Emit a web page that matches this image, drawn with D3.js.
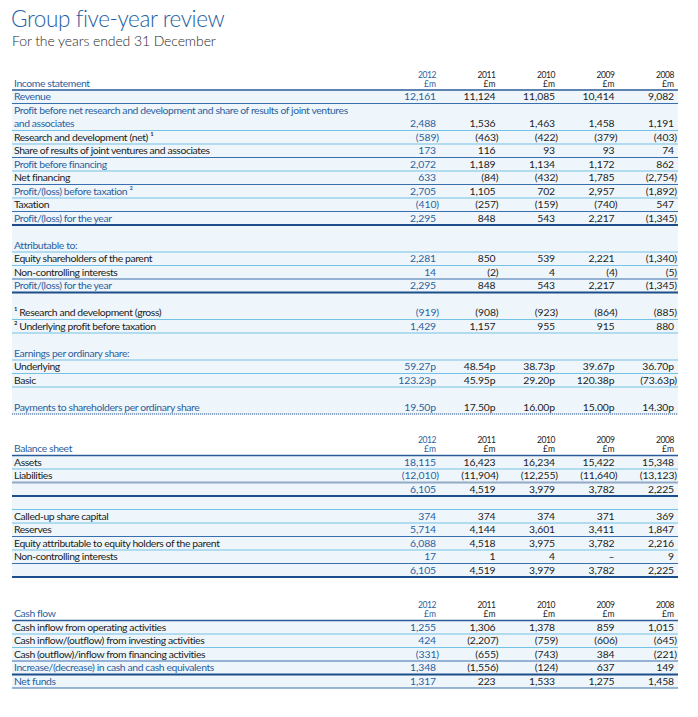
<!DOCTYPE html>
<html>
<head>
<meta charset="utf-8">
<script src="https://cdn.jsdelivr.net/npm/d3@7"></script>
<style>
  html, body { margin: 0; padding: 0; background: #ffffff; }
  svg { display: block; }
  text { font-family: Lato, "Open Sans", sans-serif; }
</style>
</head>
<body>
<div id="chart"></div>
<script>
// ---------------- DATA ----------------
const title = "Group five-year review";
const subtitle = "For the years ended 31 December";
const years = ["2012", "2011", "2010", "2009", "2008"];
const unitLabel = "£m";

const incomeTitle = "Income statement";
const incomeLabels = [
  "Revenue",
  "Profit before net research and development and share of results of joint ventures\nand associates",
  "Research and development (net) ¹",
  "Share of results of joint ventures and associates",
  "Profit before financing",
  "Net financing",
  "Profit/(loss) before taxation ²",
  "Taxation",
  "Profit/(loss) for the year"
];
const incomeValues = [
  [12161, 11124, 11085, 10414, 9082],
  [2488, 1536, 1463, 1458, 1191],
  [-589, -463, -422, -379, -403],
  [173, 116, 93, 93, 74],
  [2072, 1189, 1134, 1172, 862],
  [633, -84, -432, 1785, -2754],
  [2705, 1105, 702, 2957, -1892],
  [-410, -257, -159, -740, 547],
  [2295, 848, 543, 2217, -1345]
];

const attribTitle = "Attributable to:";
const attribLabels = ["Equity shareholders of the parent", "Non-controlling interests", "Profit/(loss) for the year"];
const attribValues = [
  [2281, 850, 539, 2221, -1340],
  [14, -2, 4, -4, -5],
  [2295, 848, 543, 2217, -1345]
];

const footLabels = ["¹ Research and development (gross)", "² Underlying profit before taxation"];
const footValues = [
  [-919, -908, -923, -864, -885],
  [1429, 1157, 955, 915, 880]
];

const epsTitle = "Earnings per ordinary share:";
const epsLabels = ["Underlying", "Basic"];
const epsValues = [
  [59.27, 48.54, 38.73, 39.67, 36.70],
  [123.23, 45.95, 29.20, 120.38, -73.63]
];

const paymentsLabel = "Payments to shareholders per ordinary share";
const paymentsValues = [19.50, 17.50, 16.00, 15.00, 14.30];

const balanceTitle = "Balance sheet";
const balanceLabels = ["Assets", "Liabilities", ""];
const balanceValues = [
  [18115, 16423, 16234, 15422, 15348],
  [-12010, -11904, -12255, -11640, -13123],
  [6105, 4519, 3979, 3782, 2225]
];

const equityLabels = ["Called-up share capital", "Reserves", "Equity attributable to equity holders of the parent", "Non-controlling interests", ""];
const equityValues = [
  [374, 374, 374, 371, 369],
  [5714, 4144, 3601, 3411, 1847],
  [6088, 4518, 3975, 3782, 2216],
  [17, 1, 4, null, 9],
  [6105, 4519, 3979, 3782, 2225]
];

const cashTitle = "Cash flow";
const cashLabels = [
  "Cash inflow from operating activities",
  "Cash inflow/(outflow) from investing activities",
  "Cash (outflow)/inflow from financing activities",
  "Increase/(decrease) in cash and cash equivalents",
  "Net funds"
];
const cashValues = [
  [1255, 1306, 1378, 859, 1015],
  [424, -2207, -759, -606, -645],
  [-331, -655, -743, 384, -221],
  [1348, -1556, -124, 637, 149],
  [1317, 223, 1533, 1275, 1458]
];

// ---------------- STYLE ----------------
const W = 698, H = 717;
const BLUE = "#2b5f9f", BLACK = "#1c1c1c", TITLE_BLUE = "#2360a3";
const BG = "#eef6fb";
const LINE = {
  light: { c: "#74c2e6", w: 1.2 },
  mid:   { c: "#3a6fae", w: 1.2 },
  dark:  { c: "#2a5b98", w: 1.4 },
  grey:  { c: "#93a9c6", w: 2 },
  dot:   { c: "#8fa6c4", w: 2, dash: "1.2,0.8" },
  thick: { c: "#1d4e8c", w: 2.2 }
};
const X0 = 12, X1 = 678, LABEL_X = 14;
const RH = 13.5;
const FS = 10.4, LS = -0.4;

const x = d3.scalePoint().domain(years).range([436, 674]);

const fmtInt = d3.format(",");
const fmtPence = d3.format(".2f");
function fmt(v, pence) {
  if (v == null) return "–";
  const s = pence ? fmtPence(Math.abs(v)) + "p" : fmtInt(Math.abs(v));
  return v < 0 ? "(" + s + ")" : s;
}

const svg = d3.select("#chart").append("svg").attr("width", W).attr("height", H);

svg.append("text").attr("x", 11).attr("y", 27)
  .attr("font-size", 22.5).attr("font-weight", 300).attr("fill", TITLE_BLUE)
  .attr("letter-spacing", -0.4).text(title);
svg.append("text").attr("x", 12).attr("y", 46)
  .attr("font-size", 14).attr("font-weight", 300).attr("fill", "#2a2a2a")
  .attr("letter-spacing", -0.1).text(subtitle);

const bgLayer = svg.append("g");
const lineLayer = svg.append("g");
const textLayer = svg.append("g");

function header(top, label) {
  textLayer.append("text").attr("x", LABEL_X).attr("y", top - 3.5)
    .attr("font-size", FS).attr("fill", BLUE).attr("letter-spacing", LS).text(label);
  years.forEach((yr, i) => {
    const col = i === 0 ? BLUE : BLACK;
    textLayer.append("text").attr("x", x(yr)).attr("y", top - 12.5)
      .attr("text-anchor", "end").attr("font-size", 8.5).attr("fill", col)
      .attr("letter-spacing", -0.4).text(yr);
    textLayer.append("text").attr("x", x(yr)).attr("y", top - 3.5)
      .attr("text-anchor", "end").attr("font-size", 8.5).attr("fill", col).text(unitLabel);
  });
  hline(top, "dark");
}

function hline(y, kind) {
  const s = LINE[kind];
  const l = lineLayer.append("line").attr("x1", X0).attr("x2", X1)
    .attr("y1", y).attr("y2", y).attr("stroke", s.c).attr("stroke-width", s.w);
  if (s.dash) l.attr("stroke-dasharray", s.dash);
}

function section(top, items) {
  let y = top;
  const start = top;
  items.forEach(it => {
    const h = (it.units || 1) * RH;
    if (it.label != null && it.label !== "") {
      const lines = it.label.split("\n");
      lines.forEach((ln, k) => {
        textLayer.append("text").attr("x", LABEL_X).attr("y", y + 10 + k * RH)
          .attr("font-size", FS).attr("fill", it.blue ? BLUE : BLACK)
          .attr("letter-spacing", LS).text(ln);
      });
    }
    if (it.values) {
      const vy = y + 10 + ((it.units || 1) - 1) * RH;
      it.values.forEach((v, i) => {
        const neg = v != null && v < 0;
        textLayer.append("text").attr("x", x(years[i]) + (neg ? 3 : 0)).attr("y", vy)
          .attr("text-anchor", "end").attr("font-size", FS)
          .attr("fill", i === 0 ? BLUE : BLACK).attr("letter-spacing", -0.1)
          .text(fmt(v, it.pence));
      });
    }
    y += h;
    if (it.line) hline(y, it.line);
  });
  bgLayer.append("rect").attr("x", X0).attr("y", start).attr("width", X1 - X0)
    .attr("height", y - start).attr("fill", BG);
  return y;
}

// Income statement block
const incomeTop = 90;
header(incomeTop, incomeTitle);
const incomeBlue = [true, true, false, false, true, false, true, false, true];
const incomeLines = ["mid", "light", "light", "mid", "light", "mid", "light", "mid", "thick"];
const incomeItems = incomeLabels.map((l, i) => ({
  label: l, values: incomeValues[i], blue: incomeBlue[i], line: incomeLines[i],
  units: l.includes("\n") ? 2 : 1
}));
incomeItems.push({ label: "", units: 1 });
incomeItems.push({ label: attribTitle, blue: true, line: "light" });
const attribBlue = [false, false, true];
const attribLines = ["light", "mid", "thick"];
attribLabels.forEach((l, i) => incomeItems.push({ label: l, values: attribValues[i], blue: attribBlue[i], line: attribLines[i] }));
incomeItems.push({ label: "" });
footLabels.forEach((l, i) => incomeItems.push({ label: l, values: footValues[i], line: "light" }));
incomeItems.push({ label: "" });
incomeItems.push({ label: epsTitle, blue: true, line: "light" });
epsLabels.forEach((l, i) => incomeItems.push({ label: l, values: epsValues[i], line: "light", pence: true }));
incomeItems.push({ label: "" });
incomeItems.push({ label: paymentsLabel, values: paymentsValues, blue: true, line: "dot", pence: true });
section(incomeTop, incomeItems);

// Balance sheet block
const balTop = 455.5;
header(balTop, balanceTitle);
const balLines = ["light", "grey", "thick"];
const balItems = balanceLabels.map((l, i) => ({ label: l, values: balanceValues[i], line: balLines[i] }));
balItems.push({ label: "", line: "light" });
const eqLines = ["light", "mid", "light", "mid", "thick"];
equityLabels.forEach((l, i) => balItems.push({ label: l, values: equityValues[i], line: eqLines[i] }));
section(balTop, balItems);

// Cash flow block
const cashTop = 620.5;
header(cashTop, cashTitle);
const cashBlue = [false, false, false, true, true];
const cashLines = ["light", "light", "mid", "thick", "mid"];
section(cashTop, cashLabels.map((l, i) => ({ label: l, values: cashValues[i], blue: cashBlue[i], line: cashLines[i] })));
</script>
</body>
</html>
